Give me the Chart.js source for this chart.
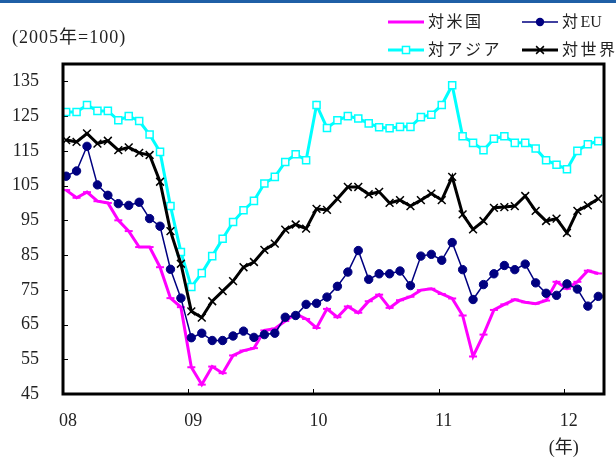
<!DOCTYPE html>
<html>
<head>
<meta charset="utf-8">
<script src="https://cdn.jsdelivr.net/npm/chart.js@4/dist/chart.umd.min.js"></script>
<style>
  body { margin: 0; background: #fff; }
  canvas { display: block; }
</style>
</head>
<body>
<canvas id="exportChart" width="616" height="460"></canvas>
<script>
// monthly index, Jan 2008 - Apr 2012 (2005 = 100)
const usValues = [
  103.7, 101.5, 103.1, 100.5, 100.0, 95.0, 91.9, 87.3, 87.3, 81.5, 72.6, 70.0,
  52.7, 47.7, 52.9, 51.0, 56.1, 57.5, 58.2, 63.3, 63.8, 66.0, 68.1, 66.6,
  64.0, 69.5, 67.1, 70.2, 68.4, 71.7, 73.6, 69.8, 72.0, 73.0, 74.9, 75.3,
  73.8, 72.5, 67.6, 55.8, 62.1, 69.2, 70.8, 72.2, 71.4, 71.0, 71.9, 77.3,
  75.3, 77.3, 80.5, 79.7
];
const euValues = [
  107.7, 109.2, 116.3, 105.2, 102.2, 99.8, 99.3, 100.2, 95.5, 93.3, 80.9, 72.6,
  61.2, 62.5, 60.4, 60.4, 61.7, 63.1, 61.3, 62.1, 62.5, 67.1, 67.6, 70.8,
  71.1, 72.9, 76.0, 80.1, 86.3, 78.0, 79.6, 79.6, 80.4, 76.2, 84.7, 85.2,
  83.5, 88.6, 80.8, 72.2, 76.5, 79.6, 82.0, 80.8, 82.4, 77.0, 74.0, 73.4,
  76.7, 75.2, 70.3, 73.1
];
const asiaValues = [
  126.2, 126.2, 128.2, 126.5, 126.5, 123.8, 125.0, 123.6, 119.7, 114.7, 99.1, 85.9,
  75.8, 79.8, 84.7, 89.7, 94.5, 97.9, 100.6, 105.6, 107.5, 111.8, 114.0, 112.3,
  128.2, 121.6, 123.8, 125.0, 124.3, 122.9, 121.8, 121.5, 121.9, 121.9, 124.7, 125.4,
  128.2, 133.9, 119.2, 117.3, 115.2, 118.5, 119.2, 117.3, 117.3, 115.7, 112.3, 111.0,
  109.7, 115.0, 116.9, 117.8
];
const worldValues = [
  118.1, 117.6, 120.0, 117.1, 117.9, 115.2, 116.0, 114.4, 113.8, 106.1, 91.9, 82.5,
  68.8, 67.0, 71.7, 74.6, 77.5, 81.5, 83.0, 86.5, 88.3, 92.3, 93.8, 92.6,
  98.3, 98.0, 101.2, 104.6, 104.6, 102.5, 103.2, 100.0, 100.8, 99.1, 100.8, 102.7,
  100.8, 107.5, 96.7, 92.4, 94.8, 98.6, 98.8, 99.1, 102.0, 97.7, 94.8, 95.5,
  91.4, 97.7, 99.3, 101.2
];

const yearLabels = ["08", "09", "10", "11", "12"];
const yearTickPos = [-0.3, 11.7, 23.7, 35.7, 47.7];
const yTickValues = [45, 55, 65, 75, 85, 95, 105, 115, 125, 135];

const NUM_FONT = '18px "Liberation Serif", "Noto Sans CJK JP", serif';
const JP_FONT = '16px "Liberation Serif", "Noto Sans CJK JP", serif';

const toPoints = (arr) => arr.map((v, i) => ({ x: i, y: v }));

const series = [
  { label: "対米国", data: usValues, color: "#ff00ff", width: 3, style: "line", radius: 4, order: 4 },
  { label: "対EU", data: euValues, color: "#000080", width: 1.5, style: "circle", radius: 4.2, order: 3 },
  { label: "対アジア", data: asiaValues, color: "#00ffff", width: 3, style: "rect", radius: 5, order: 2 },
  { label: "対世界", data: worldValues, color: "#000000", width: 3, style: "crossRot", radius: 5.5, order: 1 },
];

// draw one legend marker the same way the chart does
function drawMarker(ctx, s, x, y) {
  ctx.save();
  ctx.strokeStyle = s.color;
  ctx.fillStyle = s.color;
  if (s.style === "circle") {
    ctx.beginPath();
    ctx.arc(x, y, s.radius, 0, Math.PI * 2);
    ctx.fill();
  } else if (s.style === "rect") {
    const h = s.radius * Math.SQRT1_2;
    ctx.lineWidth = 1.5;
    ctx.fillStyle = "#fff";
    ctx.fillRect(x - h, y - h, h * 2, h * 2);
    ctx.strokeRect(x - h, y - h, h * 2, h * 2);
  } else if (s.style === "crossRot") {
    const r = s.radius * Math.SQRT1_2;
    ctx.lineWidth = 1.5;
    ctx.beginPath();
    ctx.moveTo(x - r, y - r); ctx.lineTo(x + r, y + r);
    ctx.moveTo(x - r, y + r); ctx.lineTo(x + r, y - r);
    ctx.stroke();
  }
  ctx.restore();
}

// CJK glyphs get a little extra room, latin letters keep their width
function drawSpaced(ctx, text, x, y) {
  for (const ch of text) {
    ctx.fillText(ch, x, y);
    x += ctx.measureText(ch).width + (/[\u3000-\u9fff]/.test(ch) ? 2.5 : 0);
  }
}

const decorations = {
  id: "decorations",
  beforeDatasetsDraw(chart) {
    const { ctx, chartArea: a, scales } = chart;
    ctx.save();
    ctx.strokeStyle = "#000";
    ctx.lineWidth = 1;
    // short inward tick marks
    yTickValues.forEach((v) => {
      const y = Math.round(scales.y.getPixelForValue(v)) + 0.5;
      ctx.beginPath();
      ctx.moveTo(a.left, y);
      ctx.lineTo(a.left + 5, y);
      ctx.stroke();
    });
    yearTickPos.forEach((v) => {
      const x = Math.round(scales.x.getPixelForValue(v)) + 0.5;
      ctx.beginPath();
      ctx.moveTo(x, a.bottom);
      ctx.lineTo(x, a.bottom - 5);
      ctx.stroke();
    });
    ctx.restore();
  },
  afterDraw(chart) {
    const { ctx, chartArea: a, scales } = chart;
    ctx.save();

    // plot frame
    ctx.strokeStyle = "#000";
    ctx.lineWidth = 3;
    ctx.strokeRect(a.left, a.top, a.right - a.left, a.bottom - a.top);

    // header strip
    ctx.fillStyle = "#1f5fa6";
    ctx.fillRect(0, 0, 616, 3);

    ctx.fillStyle = "#222";
    ctx.textBaseline = "middle";
    ctx.font = NUM_FONT;
    ctx.letterSpacing = "1px";
    ctx.fillText("(2005年=100)", 12, 38);
    ctx.letterSpacing = "0px";

    ctx.textAlign = "center";
    ctx.fillText("(年)", scales.x.getPixelForValue(yearTickPos[4]), 448);
    ctx.textAlign = "left";

    // legend, two columns by two rows
    const cols = [388, 522];
    const rows = [22, 50];
    ctx.font = JP_FONT;
    series.forEach((s, i) => {
      const x0 = cols[i % 2];
      const y0 = rows[Math.floor(i / 2)];
      ctx.strokeStyle = s.color;
      ctx.lineWidth = s.width;
      ctx.beginPath();
      ctx.moveTo(x0, y0);
      ctx.lineTo(x0 + 36, y0);
      ctx.stroke();
      drawMarker(ctx, s, x0 + 18, y0);
      ctx.fillStyle = "#222";
      drawSpaced(ctx, s.label, x0 + 40, y0 + 1);
    });
    ctx.restore();
  },
};

new Chart(document.getElementById("exportChart").getContext("2d"), {
  type: "line",
  data: {
    datasets: series.map((s) => ({
      label: s.label,
      data: toPoints(s.data),
      borderColor: s.color,
      backgroundColor: s.style === "rect" ? "#fff" : s.color,
      borderWidth: s.width,
      pointStyle: s.style,
      pointRadius: s.radius,
      pointBorderWidth: s.style === "line" ? 2 : s.style === "circle" ? 1 : 1.5,
      pointBorderColor: s.color,
      pointBackgroundColor: s.style === "rect" ? "#fff" : s.color,
      tension: 0,
      fill: false,
      order: s.order,
    })),
  },
  options: {
    responsive: false,
    animation: false,
    layout: { padding: { top: 64, right: 12, left: 0, bottom: 0 } },
    plugins: { legend: { display: false }, tooltip: { enabled: false } },
    scales: {
      x: {
        type: "linear",
        min: -0.3,
        max: 51.55,
        grid: { display: false, drawTicks: false },
        border: { display: false },
        afterBuildTicks: (scale) => {
          scale.ticks = yearTickPos.map((v) => ({ value: v }));
        },
        afterFit: (scale) => { scale.height = 66; },
        ticks: {
          autoSkip: false,
          maxRotation: 0,
          padding: 16,
          labelOffset: 5,
          color: "#222",
          font: { family: '"Liberation Serif", serif', size: 18 },
          callback: (v) => {
            const k = yearTickPos.indexOf(v);
            return k >= 0 ? yearLabels[k] : "";
          },
        },
      },
      y: {
        min: 45,
        max: 140,
        grid: { display: false, drawTicks: false },
        border: { display: false },
        afterBuildTicks: (scale) => {
          scale.ticks = yTickValues.map((v) => ({ value: v }));
        },
        afterFit: (scale) => { scale.width = 63; },
        ticks: {
          padding: 24,
          color: "#222",
          font: { family: '"Liberation Serif", serif', size: 18 },
        },
      },
    },
  },
  plugins: [decorations],
});
</script>
</body>
</html>
